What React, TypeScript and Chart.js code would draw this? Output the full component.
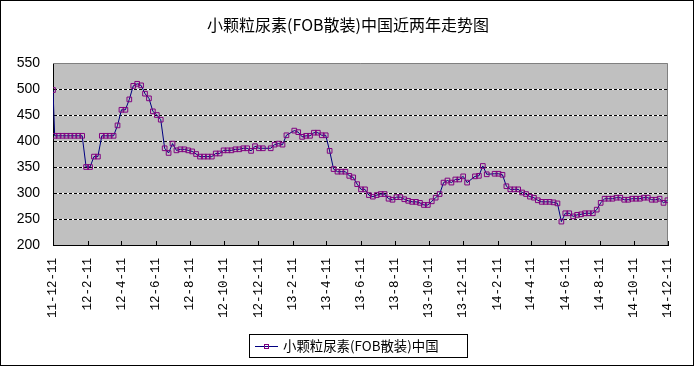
import React, { useEffect, useRef } from "react";
import { Chart, registerables } from "chart.js";

Chart.register(...registerables);

const chartTitle = "小颗粒尿素(FOB散装)中国近两年走势图";
const seriesName = "小颗粒尿素(FOB散装)中国";

const tickLabels = [
  "11-12-11", "12-2-11", "12-4-11", "12-6-11", "12-8-11", "12-10-11", "12-12-11",
  "13-2-11", "13-4-11", "13-6-11", "13-8-11", "13-10-11", "13-12-11",
  "14-2-11", "14-4-11", "14-6-11", "14-8-11", "14-10-11", "14-12-11",
];
// day offsets of the tick dates from 2011-12-11
const tickDays = [0, 62, 122, 183, 244, 305, 366, 428, 487, 548, 609, 670, 731, 793, 852, 913, 974, 1035, 1096];

const yTicks = [200, 250, 300, 350, 400, 450, 500, 550];

// weekly prices (first entry 2011-12-11, then weekly from 2011-12-14); null = no quote that week
const prices: (number | null)[] = [
  498,
  410, 410, 410, 410, 410, 410, 410, 410,
  350, 350, 370, 370,
  410, 410, 410, 410, 430, 460, 460, 480, 506, 510, 507, 491, 482,
  457, 450, 441, 386, 377, 395, 382, 384, 384, 382, 380, 375,
  370, 370, 370, 370, 376, 376, 382, 382, 382, 384, 384, 386, 386,
  381, 390, 386, 386, null, 386, 393, 395, 393, 411, null, 420, 417, 408,
  410, 410, 416, 416, 411, 411, 381, 346, 341, 341, 341, 333, 330,
  317, 307, 307, 296, 293, 296, 298, 298, 289, 287, 292, 292, 288, 285,
  283, 283, 281, 277, 277, 284, 291, 298, 320, 324, 320,
  326, 326, 332, 320, null, 332, 333, 352, 336, null, 337, 337, 335,
  313, 307, 307, 307, 301, 298, 293, 291, 286, 283, 283, 283,
  282, 280, 245, 261, 261, 255, 258, 259, 261, 261, 261, 268, 281,
  289, 289, 289, 291, 291, 287, 287, 289, 289, 289, 291, 291, 287, 287, 289, 281, 286,
];

const dayOf = (i: number) => (i === 0 ? 0 : 3 + 7 * (i - 1));

const LINE_COLOR = "#000080";
const MARKER_COLOR = "#800080";
const PLOT_BG = "#C0C0C0";

export default function App() {
  const ref = useRef<HTMLCanvasElement | null>(null);

  useEffect(() => {
    document.body.style.margin = "0";
    const canvas = ref.current;
    if (!canvas) return;

    const data = prices.map((v, i) => ({ x: dayOf(i), y: v }));

    const decor = {
      id: "decor",
      beforeDraw(chart: any) {
        const { ctx, chartArea: a } = chart;
        ctx.save();
        ctx.fillStyle = "#ffffff";
        ctx.fillRect(0, 0, chart.width, chart.height);
        ctx.fillStyle = PLOT_BG;
        ctx.fillRect(a.left, a.top, a.right - a.left, a.bottom - a.top);
        ctx.restore();
      },
      beforeDatasetsDraw(chart: any) {
        const { ctx, chartArea: a, scales } = chart;
        const ys = scales.y;
        ctx.save();
        ctx.lineWidth = 1;
        for (const v of yTicks) {
          if (v === 200 || v === 550) continue;
          const y = Math.round(ys.getPixelForValue(v)) + 0.5;
          ctx.setLineDash([]);
          ctx.strokeStyle = "#ffffff";
          ctx.beginPath();
          ctx.moveTo(a.left + 1, y);
          ctx.lineTo(a.right, y);
          ctx.stroke();
          ctx.setLineDash([3, 2]);
          ctx.strokeStyle = "#000000";
          ctx.beginPath();
          ctx.moveTo(a.left + 1, y);
          ctx.lineTo(a.right, y);
          ctx.stroke();
        }
        ctx.setLineDash([]);
        ctx.strokeStyle = "#808080";
        ctx.beginPath();
        const t = Math.round(a.top) + 0.5;
        const r = Math.round(a.right) - 0.5;
        ctx.moveTo(a.left, t);
        ctx.lineTo(r, t);
        ctx.lineTo(r, a.bottom);
        ctx.stroke();
        // inward x tick marks
        const xs = scales.x;
        ctx.strokeStyle = "#000000";
        ctx.beginPath();
        for (const d of tickDays) {
          const x = Math.round(xs.getPixelForValue(d)) + 0.5;
          ctx.moveTo(x, a.bottom - 4);
          ctx.lineTo(x, a.bottom);
        }
        ctx.stroke();
        ctx.restore();
      },
      afterDraw(chart: any) {
        const { ctx } = chart;
        ctx.save();
        // outer border
        ctx.strokeStyle = "#000000";
        ctx.lineWidth = 1;
        ctx.strokeRect(0.5, 0.5, 693, 365);
        // title
        ctx.fillStyle = "#000000";
        ctx.font = '16px "Noto Sans CJK SC"';
        ctx.textAlign = "center";
        ctx.textBaseline = "middle";
        ctx.fillText(chartTitle, 348, 25);
        // legend
        ctx.strokeRect(249.5, 334.5, 218, 23);
        ctx.strokeStyle = LINE_COLOR;
        ctx.beginPath();
        ctx.moveTo(255, 346.5);
        ctx.lineTo(278, 346.5);
        ctx.stroke();
        ctx.strokeStyle = MARKER_COLOR;
        ctx.strokeRect(264.5, 344.5, 4, 4);
        ctx.fillStyle = "#000000";
        ctx.font = '13.4px "Noto Sans CJK SC"';
        ctx.textAlign = "left";
        ctx.fillText(seriesName, 283, 346);
        ctx.restore();
      },
    };

    const chart = new Chart(canvas, {
      type: "line",
      data: {
        datasets: [
          {
            label: seriesName,
            data: data as any,
            borderColor: LINE_COLOR,
            borderWidth: 1,
            pointStyle: "rect",
            pointRadius: 3.3,
            pointBorderColor: MARKER_COLOR,
            pointBackgroundColor: "rgba(0,0,0,0)",
            pointBorderWidth: 1,
            spanGaps: true,
            tension: 0,
          },
        ],
      },
      options: {
        animation: false,
        responsive: false,
        layout: { padding: { top: 63, right: 25, left: 0, bottom: 0 } },
        plugins: {
          legend: { display: false },
          title: { display: false },
          tooltip: { enabled: false },
        },
        scales: {
          x: {
            type: "linear",
            min: 0,
            max: 1096,
            afterBuildTicks: (s: any) => {
              s.ticks = tickDays.map((v) => ({ value: v }));
            },
            afterFit: (s: any) => {
              s.height = 121;
            },
            grid: { display: true, drawOnChartArea: false, drawTicks: false },
            border: { display: true, color: "#000000", width: 1 },
            ticks: {
              autoSkip: false,
              minRotation: 90,
              maxRotation: 90,
              padding: 13,
              color: "#000000",
              font: { family: "Liberation Mono", size: 12.5 },
              callback: (_v: any, i: number) => tickLabels[i],
            },
          },
          y: {
            min: 200,
            max: 550,
            afterBuildTicks: (s: any) => {
              s.ticks = yTicks.map((v) => ({ value: v }));
            },
            afterFit: (s: any) => {
              s.width = 53;
            },
            grid: { display: true, drawOnChartArea: false, drawTicks: false },
            border: { display: true, color: "#000000", width: 1 },
            ticks: {
              padding: 13,
              color: "#000000",
              font: { family: "Liberation Sans", size: 14 },
              callback: (v: any) => String(v),
            },
          },
        },
      },
      plugins: [decor],
    });

    return () => chart.destroy();
  }, []);

  return (
    <div style={{ position: "absolute", left: 0, top: 0, width: 696, height: 366 }}>
      <canvas ref={ref} width={696} height={366} style={{ display: "block" }} />
    </div>
  );
}
